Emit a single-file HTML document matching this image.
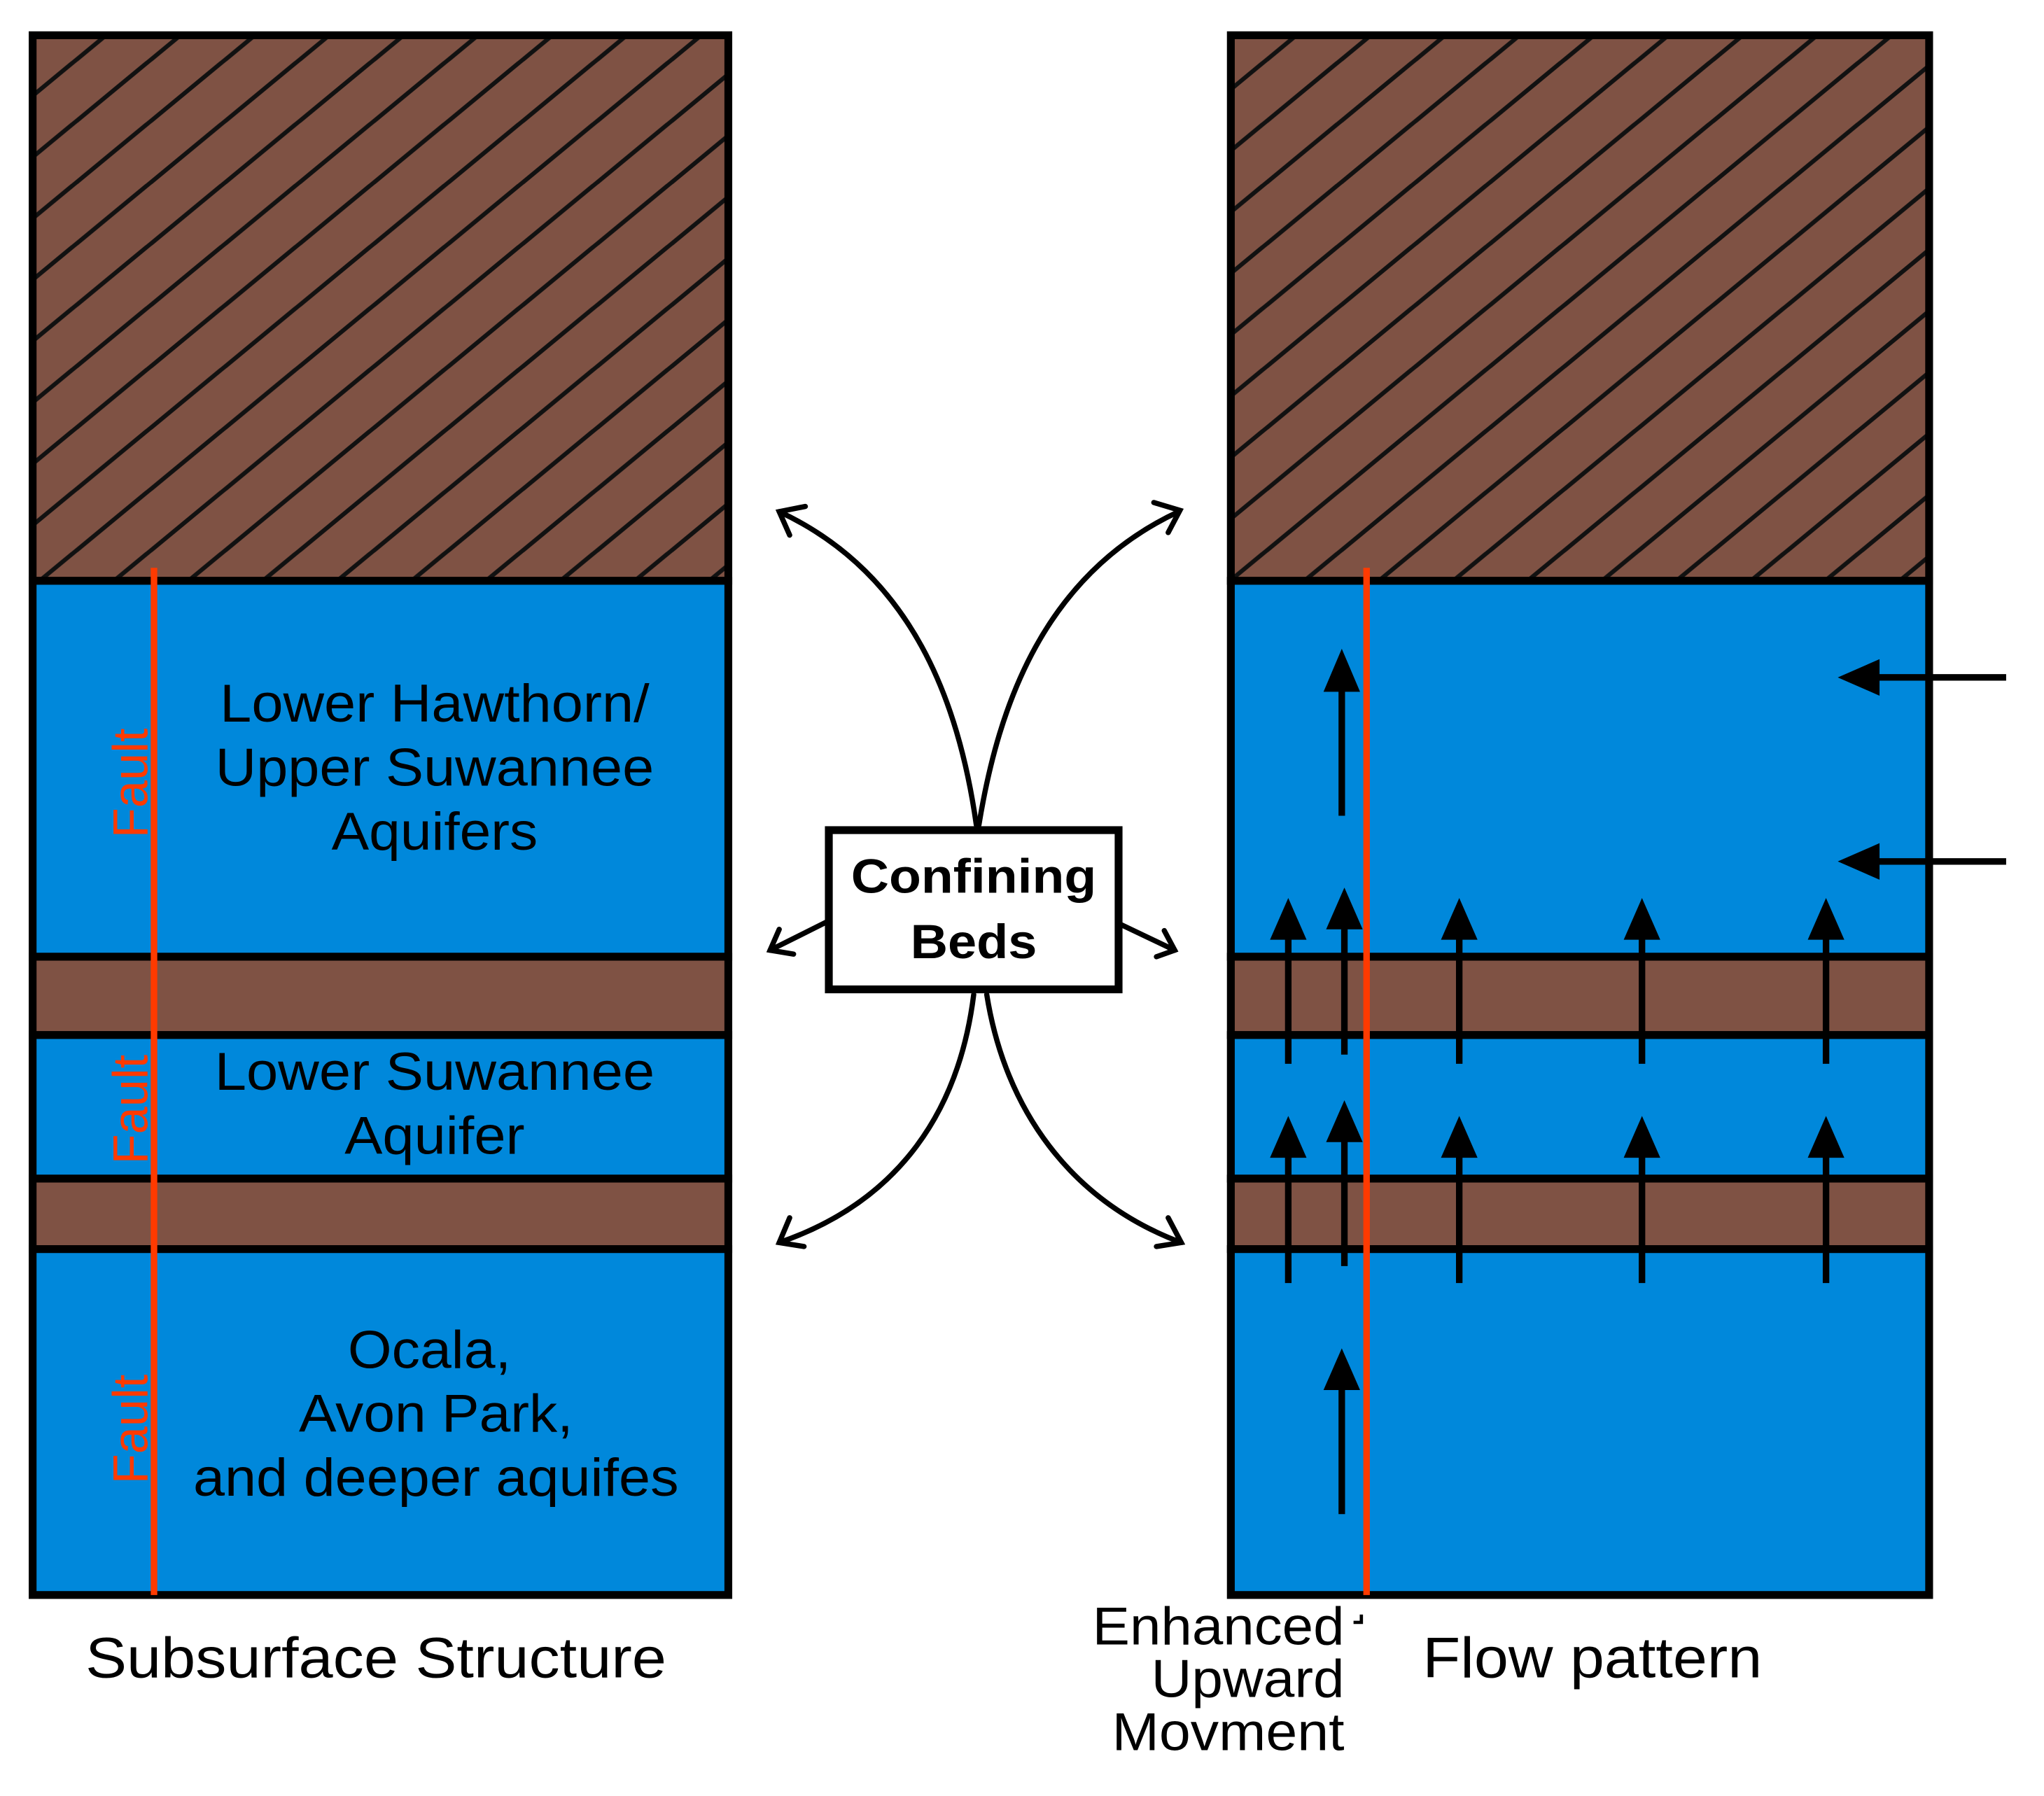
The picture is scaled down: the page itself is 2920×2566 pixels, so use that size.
<!DOCTYPE html>
<html><head><style>html,body{margin:0;padding:0;background:#fff}svg{display:block}</style></head>
<body>
<svg width="2920" height="2566" viewBox="0 0 1566 1376" preserveAspectRatio="none" xmlns="http://www.w3.org/2000/svg" font-family="Liberation Sans, Arial, sans-serif">
<defs>
<pattern id="h" patternUnits="userSpaceOnUse" width="57" height="47">
<rect width="57" height="47" fill="#7f5244"/>
<line x1="-6" y1="52" x2="63" y2="-5" stroke="#111" stroke-width="3.3"/>
<line x1="-63" y1="52" x2="6" y2="-5" stroke="#111" stroke-width="3.3"/>
<line x1="51" y1="52" x2="120" y2="-5" stroke="#111" stroke-width="3.3"/>
</pattern>
</defs>
<g stroke="#000" stroke-width="6">
<rect x="25" y="27" width="533" height="418" fill="url(#h)"/>
<rect x="25" y="445" width="533" height="288" fill="#0088db"/>
<rect x="25" y="733" width="533" height="60" fill="#7f5244"/>
<rect x="25" y="793" width="533" height="110" fill="#0088db"/>
<rect x="25" y="903" width="533" height="54" fill="#7f5244"/>
<rect x="25" y="957" width="533" height="265" fill="#0088db"/>
<rect x="943" y="27" width="535" height="418" fill="url(#h)"/>
<rect x="943" y="445" width="535" height="288" fill="#0088db"/>
<rect x="943" y="733" width="535" height="60" fill="#7f5244"/>
<rect x="943" y="793" width="535" height="110" fill="#0088db"/>
<rect x="943" y="903" width="535" height="54" fill="#7f5244"/>
<rect x="943" y="957" width="535" height="265" fill="#0088db"/>
</g>
<line x1="118" y1="435" x2="118" y2="1222" stroke="#ff3a00" stroke-width="5"/>
<line x1="1047" y1="435" x2="1047" y2="1222" stroke="#ff3a00" stroke-width="5"/>
<g fill="#ff3a00" font-size="38">
<text transform="translate(113,600) rotate(-90)" text-anchor="middle" textLength="84" lengthAdjust="spacingAndGlyphs">Fault</text>
<text transform="translate(113,850) rotate(-90)" text-anchor="middle" textLength="84" lengthAdjust="spacingAndGlyphs">Fault</text>
<text transform="translate(113,1095) rotate(-90)" text-anchor="middle" textLength="84" lengthAdjust="spacingAndGlyphs">Fault</text>
</g>
<g font-size="41" text-anchor="middle" fill="#000" lengthAdjust="spacingAndGlyphs">
<text x="333" y="553" textLength="329" lengthAdjust="spacingAndGlyphs">Lower Hawthorn/</text>
<text x="333" y="602" textLength="336" lengthAdjust="spacingAndGlyphs">Upper Suwannee</text>
<text x="333" y="651" textLength="158" lengthAdjust="spacingAndGlyphs">Aquifers</text>
<text x="333" y="835" textLength="337" lengthAdjust="spacingAndGlyphs">Lower Suwannee</text>
<text x="333" y="884" textLength="138" lengthAdjust="spacingAndGlyphs">Aquifer</text>
<text x="329" y="1048" textLength="125" lengthAdjust="spacingAndGlyphs">Ocala,</text>
<text x="334" y="1097" textLength="210" lengthAdjust="spacingAndGlyphs">Avon Park,</text>
<text x="334" y="1146" textLength="372" lengthAdjust="spacingAndGlyphs">and deeper aquifes</text>
<text x="288" y="1285" font-size="44" textLength="445" lengthAdjust="spacingAndGlyphs">Subsurface Structure</text>
</g>
<g font-size="41" fill="#000">
<text x="1030" y="1260" text-anchor="end" textLength="193" lengthAdjust="spacingAndGlyphs">Enhanced</text>
<text x="1030" y="1300" text-anchor="end" textLength="148" lengthAdjust="spacingAndGlyphs">Upward</text>
<text x="1030" y="1341" text-anchor="end" textLength="178" lengthAdjust="spacingAndGlyphs">Movment</text>
<text x="1090" y="1285" font-size="44" textLength="260" lengthAdjust="spacingAndGlyphs">Flow pattern</text>
</g>
<path d="M1037 1243h6v-6" stroke="#000" stroke-width="2.5" fill="none"/>
<g stroke="#000" stroke-width="5">
<line x1="987" y1="815" x2="987" y2="715"/><line x1="1030" y1="808" x2="1030" y2="705"/>
<line x1="1118" y1="815" x2="1118" y2="715"/><line x1="1258" y1="815" x2="1258" y2="715"/><line x1="1399" y1="815" x2="1399" y2="715"/>
<line x1="987" y1="983" x2="987" y2="882"/><line x1="1030" y1="970" x2="1030" y2="870"/>
<line x1="1118" y1="983" x2="1118" y2="882"/><line x1="1258" y1="983" x2="1258" y2="882"/><line x1="1399" y1="983" x2="1399" y2="882"/>
<line x1="1028" y1="625" x2="1028" y2="525"/><line x1="1028" y1="1160" x2="1028" y2="1060"/>
<line x1="1537" y1="519" x2="1435" y2="519"/><line x1="1537" y1="660" x2="1435" y2="660"/>
</g>
<g fill="#000">
<path d="M973 720L987 688L1001 720Z"/><path d="M1016 712L1030 680L1044 712Z"/>
<path d="M1104 720L1118 688L1132 720Z"/><path d="M1244 720L1258 688L1272 720Z"/><path d="M1385 720L1399 688L1413 720Z"/>
<path d="M973 887L987 855L1001 887Z"/><path d="M1016 875L1030 843L1044 875Z"/>
<path d="M1104 887L1118 855L1132 887Z"/><path d="M1244 887L1258 855L1272 887Z"/><path d="M1385 887L1399 855L1413 887Z"/>
<path d="M1014 530L1028 497L1042 530Z"/><path d="M1014 1065L1028 1033L1042 1065Z"/>
<path d="M1440 505L1408 519L1440 533Z"/><path d="M1440 646L1408 660L1440 674Z"/>
</g>
<g stroke="#000" stroke-width="4" fill="none" stroke-linecap="round">
<path d="M748 632C735 540 700 440 597 392"/>
<path d="M750 632C765 540 800 440 903 392"/>
<path d="M746 762C735 850 690 920 597 952"/>
<path d="M756 762C770 850 820 920 905 952"/>
<path d="M636 705L590 728"/>
<path d="M858 708L900 728"/>
<path d="M617 388L597 392L605 410"/><path d="M884 385L904 391L895 408"/>
<path d="M605 933L597 952L616 955"/><path d="M895 933L905 952L886 955"/>
<path d="M597 712L590 728L608 731"/><path d="M886 733L900 728L892 713"/>
</g>
<rect x="635" y="636" width="222" height="122" fill="#fff" stroke="#000" stroke-width="6"/>
<g font-size="37" font-weight="bold" text-anchor="middle"><text x="746" y="684" textLength="188" lengthAdjust="spacingAndGlyphs">Confining</text><text x="746" y="734" textLength="97" lengthAdjust="spacingAndGlyphs">Beds</text></g>
</svg>
</body></html>
